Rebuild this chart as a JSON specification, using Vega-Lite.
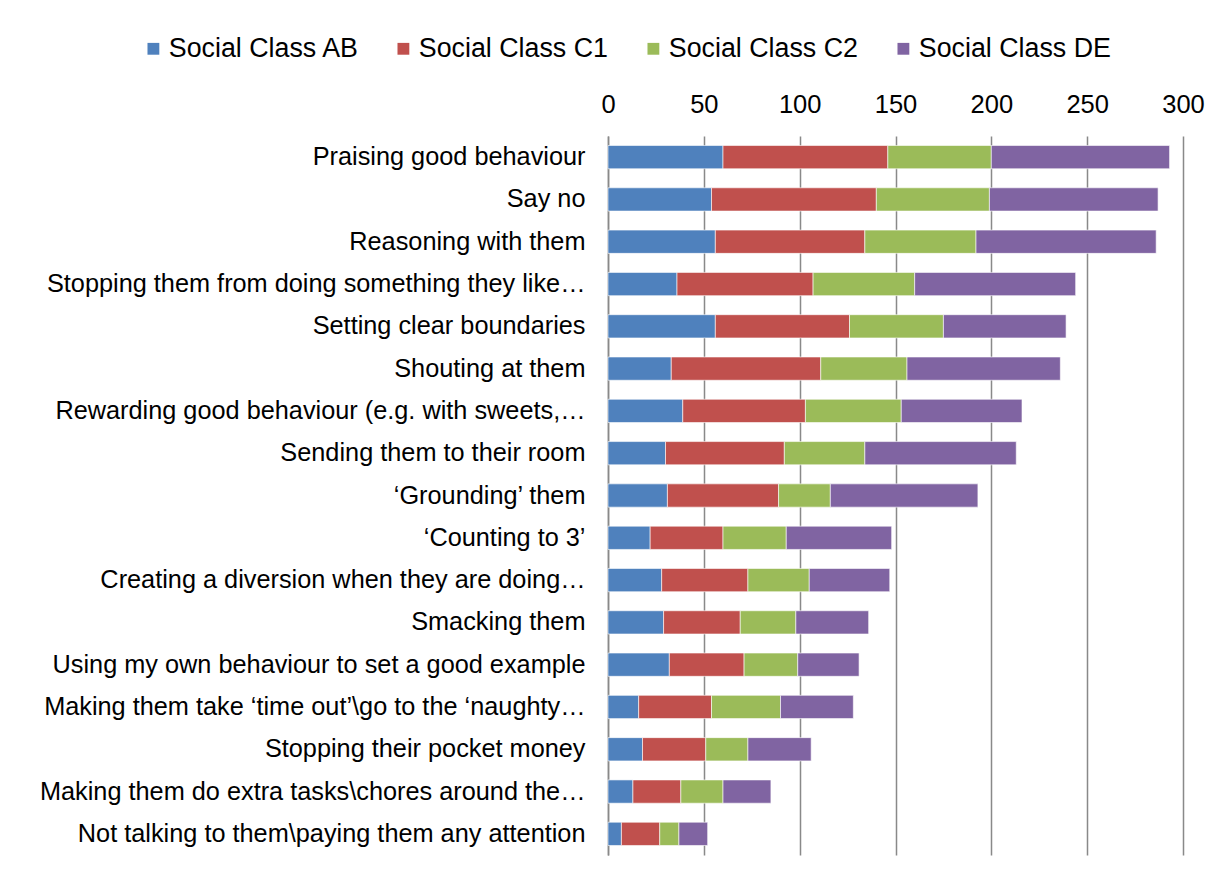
{
  "$schema": "https://vega.github.io/schema/vega-lite/v6.json",
  "autosize": {"type": "none"},
  "padding": {"left": 608, "top": 136, "right": 40, "bottom": 21},
  "width": 575,
  "height": 719,
  "background": "white",
  "config": {
    "font": "Liberation Sans",
    "view": {"stroke": null},
    "axis": {"labelFont": "Liberation Sans", "labelColor": "#000000"}
  },
  "data": {
    "values": [
      {"activity": "Praising good behaviour", "class": "Social Class AB", "value": 60},
      {"activity": "Praising good behaviour", "class": "Social Class C1", "value": 86},
      {"activity": "Praising good behaviour", "class": "Social Class C2", "value": 54},
      {"activity": "Praising good behaviour", "class": "Social Class DE", "value": 93},
      {"activity": "Say no", "class": "Social Class AB", "value": 54},
      {"activity": "Say no", "class": "Social Class C1", "value": 86},
      {"activity": "Say no", "class": "Social Class C2", "value": 59},
      {"activity": "Say no", "class": "Social Class DE", "value": 88},
      {"activity": "Reasoning with them", "class": "Social Class AB", "value": 56},
      {"activity": "Reasoning with them", "class": "Social Class C1", "value": 78},
      {"activity": "Reasoning with them", "class": "Social Class C2", "value": 58},
      {"activity": "Reasoning with them", "class": "Social Class DE", "value": 94},
      {"activity": "Stopping them from doing something they like…", "class": "Social Class AB", "value": 36},
      {"activity": "Stopping them from doing something they like…", "class": "Social Class C1", "value": 71},
      {"activity": "Stopping them from doing something they like…", "class": "Social Class C2", "value": 53},
      {"activity": "Stopping them from doing something they like…", "class": "Social Class DE", "value": 84},
      {"activity": "Setting clear boundaries", "class": "Social Class AB", "value": 56},
      {"activity": "Setting clear boundaries", "class": "Social Class C1", "value": 70},
      {"activity": "Setting clear boundaries", "class": "Social Class C2", "value": 49},
      {"activity": "Setting clear boundaries", "class": "Social Class DE", "value": 64},
      {"activity": "Shouting at them", "class": "Social Class AB", "value": 33},
      {"activity": "Shouting at them", "class": "Social Class C1", "value": 78},
      {"activity": "Shouting at them", "class": "Social Class C2", "value": 45},
      {"activity": "Shouting at them", "class": "Social Class DE", "value": 80},
      {"activity": "Rewarding good behaviour (e.g. with sweets,…", "class": "Social Class AB", "value": 39},
      {"activity": "Rewarding good behaviour (e.g. with sweets,…", "class": "Social Class C1", "value": 64},
      {"activity": "Rewarding good behaviour (e.g. with sweets,…", "class": "Social Class C2", "value": 50},
      {"activity": "Rewarding good behaviour (e.g. with sweets,…", "class": "Social Class DE", "value": 63},
      {"activity": "Sending them to their room", "class": "Social Class AB", "value": 30},
      {"activity": "Sending them to their room", "class": "Social Class C1", "value": 62},
      {"activity": "Sending them to their room", "class": "Social Class C2", "value": 42},
      {"activity": "Sending them to their room", "class": "Social Class DE", "value": 79},
      {"activity": "‘Grounding’ them", "class": "Social Class AB", "value": 31},
      {"activity": "‘Grounding’ them", "class": "Social Class C1", "value": 58},
      {"activity": "‘Grounding’ them", "class": "Social Class C2", "value": 27},
      {"activity": "‘Grounding’ them", "class": "Social Class DE", "value": 77},
      {"activity": "‘Counting to 3’", "class": "Social Class AB", "value": 22},
      {"activity": "‘Counting to 3’", "class": "Social Class C1", "value": 38},
      {"activity": "‘Counting to 3’", "class": "Social Class C2", "value": 33},
      {"activity": "‘Counting to 3’", "class": "Social Class DE", "value": 55},
      {"activity": "Creating a diversion when they are doing…", "class": "Social Class AB", "value": 28},
      {"activity": "Creating a diversion when they are doing…", "class": "Social Class C1", "value": 45},
      {"activity": "Creating a diversion when they are doing…", "class": "Social Class C2", "value": 32},
      {"activity": "Creating a diversion when they are doing…", "class": "Social Class DE", "value": 42},
      {"activity": "Smacking them", "class": "Social Class AB", "value": 29},
      {"activity": "Smacking them", "class": "Social Class C1", "value": 40},
      {"activity": "Smacking them", "class": "Social Class C2", "value": 29},
      {"activity": "Smacking them", "class": "Social Class DE", "value": 38},
      {"activity": "Using my own behaviour to set a good example", "class": "Social Class AB", "value": 32},
      {"activity": "Using my own behaviour to set a good example", "class": "Social Class C1", "value": 39},
      {"activity": "Using my own behaviour to set a good example", "class": "Social Class C2", "value": 28},
      {"activity": "Using my own behaviour to set a good example", "class": "Social Class DE", "value": 32},
      {"activity": "Making them take ‘time out’\\go to the ‘naughty…", "class": "Social Class AB", "value": 16},
      {"activity": "Making them take ‘time out’\\go to the ‘naughty…", "class": "Social Class C1", "value": 38},
      {"activity": "Making them take ‘time out’\\go to the ‘naughty…", "class": "Social Class C2", "value": 36},
      {"activity": "Making them take ‘time out’\\go to the ‘naughty…", "class": "Social Class DE", "value": 38},
      {"activity": "Stopping their pocket money", "class": "Social Class AB", "value": 18},
      {"activity": "Stopping their pocket money", "class": "Social Class C1", "value": 33},
      {"activity": "Stopping their pocket money", "class": "Social Class C2", "value": 22},
      {"activity": "Stopping their pocket money", "class": "Social Class DE", "value": 33},
      {"activity": "Making them do extra tasks\\chores around the…", "class": "Social Class AB", "value": 13},
      {"activity": "Making them do extra tasks\\chores around the…", "class": "Social Class C1", "value": 25},
      {"activity": "Making them do extra tasks\\chores around the…", "class": "Social Class C2", "value": 22},
      {"activity": "Making them do extra tasks\\chores around the…", "class": "Social Class DE", "value": 25},
      {"activity": "Not talking to them\\paying them any attention", "class": "Social Class AB", "value": 7},
      {"activity": "Not talking to them\\paying them any attention", "class": "Social Class C1", "value": 20},
      {"activity": "Not talking to them\\paying them any attention", "class": "Social Class C2", "value": 10},
      {"activity": "Not talking to them\\paying them any attention", "class": "Social Class DE", "value": 15}
    ]
  },
  "mark": {"type": "bar", "stroke": "white", "strokeWidth": 0.6},
  "encoding": {
    "y": {
      "field": "activity",
      "type": "nominal",
      "sort": null,
      "scale": {"paddingInner": 0.45, "paddingOuter": 0.225},
      "axis": {
        "title": null,
        "ticks": false,
        "domain": true,
        "domainColor": "#898989",
        "domainWidth": 1.5,
        "labelFontSize": 25.3,
        "labelPadding": 23,
        "labelLimit": 700,
        "grid": false
      }
    },
    "x": {
      "field": "value",
      "type": "quantitative",
      "stack": "zero",
      "scale": {"domain": [0, 300], "nice": false},
      "axis": {
        "orient": "top",
        "title": null,
        "values": [0, 50, 100, 150, 200, 250, 300],
        "ticks": false,
        "domain": false,
        "grid": true,
        "gridColor": "#898989",
        "gridWidth": 1.5,
        "labelFontSize": 25.5,
        "labelPadding": 19,
        "labelFlush": false
      }
    },
    "color": {
      "field": "class",
      "type": "nominal",
      "scale": {
        "domain": ["Social Class AB", "Social Class C1", "Social Class C2", "Social Class DE"],
        "range": ["#4F81BD", "#C0504D", "#9BBB59", "#8064A2"]
      },
      "legend": {
        "title": null,
        "orient": "none",
        "direction": "horizontal",
        "legendX": -468,
        "legendY": -101,
        "symbolType": "square",
        "symbolSize": 140,
        "symbolStrokeWidth": 0,
        "labelFontSize": 26.8,
        "labelOffset": 2,
        "labelColor": "#000000",
        "columnPadding": 29,
        "gridAlign": "all",
        "labelLimit": 400
      }
    },
    "order": {"field": "class", "sort": "ascending"}
  }
}
